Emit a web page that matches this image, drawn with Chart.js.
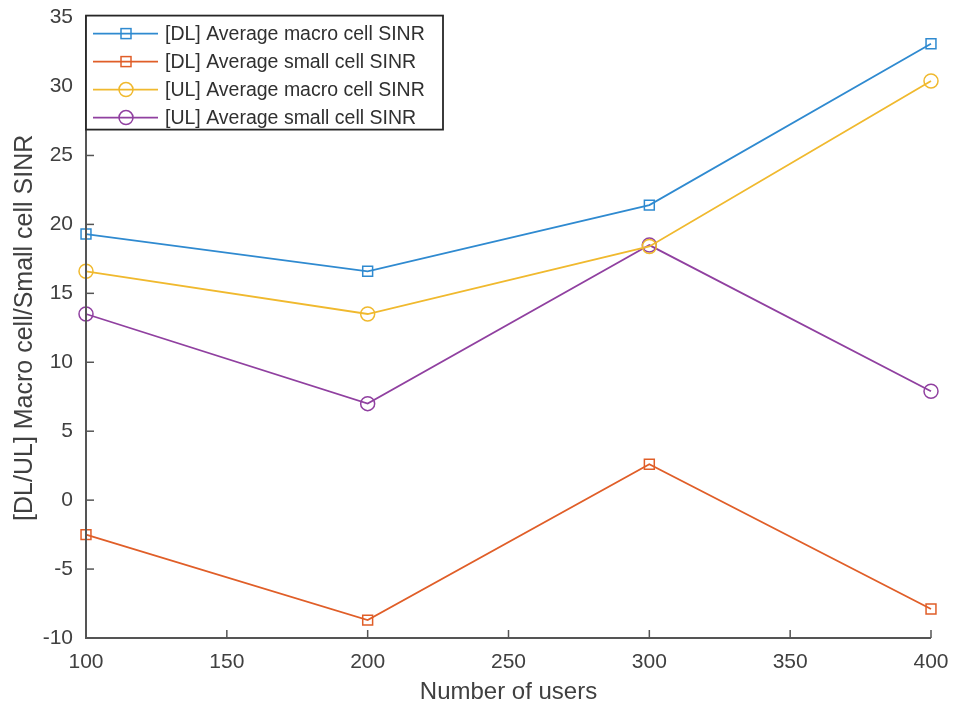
<!DOCTYPE html>
<html>
<head>
<meta charset="utf-8">
<script src="https://cdn.jsdelivr.net/npm/chart.js@4.4.1/dist/chart.umd.min.js"></script>
<style>
  html, body { margin: 0; padding: 0; background: #fff; }
  #wrap { width: 957px; height: 711px; }
</style>
</head>
<body>
<div id="wrap"><canvas id="sinrChart" width="957" height="711"></canvas></div>
<script>
// dados
const users = [100, 200, 300, 400];
const dlMacro = [19.3, 16.6, 21.4, 33.1];
const dlSmall = [-2.5, -8.7, 2.6, -7.9];
const ulMacro = [16.6, 13.5, 18.4, 30.4];
const ulSmall = [13.5, 7.0, 18.5, 7.9];
const xTicks = [100, 150, 200, 250, 300, 350, 400];
const yTicks = [-10, -5, 0, 5, 10, 15, 20, 25, 30, 35];

const axisColor = '#404040';
const fontFam = '"Liberation Sans", Arial, sans-serif';

function serie(label, values, color, shape) {
  return {
    label: label,
    data: users.map((u, i) => ({ x: u, y: values[i] })),
    borderColor: color,
    backgroundColor: color,
    borderWidth: 1.8,
    pointStyle: shape,
    pointRadius: 7,
    pointBorderWidth: 1.5,
    pointBackgroundColor: 'rgba(0,0,0,0)',
    pointBorderColor: color,
    clip: false,
    tension: 0
  };
}

// ticks para dentro e legenda no estilo MATLAB
const matlabAxes = {
  id: 'matlabAxes',
  afterDraw(chart) {
    const ctx = chart.ctx;
    const x = chart.scales.x, y = chart.scales.y;
    const a = chart.chartArea;
    ctx.save();
    ctx.strokeStyle = '#555';
    ctx.lineWidth = 2;
    ctx.beginPath();
    ctx.moveTo(a.left, a.top - 2);
    ctx.lineTo(a.left, a.bottom);
    ctx.lineTo(a.right, a.bottom);
    ctx.stroke();
    ctx.lineWidth = 1.5;
    xTicks.forEach(v => {
      const px = x.getPixelForValue(v);
      ctx.beginPath(); ctx.moveTo(px, a.bottom); ctx.lineTo(px, a.bottom - 8); ctx.stroke();
    });
    yTicks.forEach(v => {
      const py = y.getPixelForValue(v);
      ctx.beginPath(); ctx.moveTo(a.left, py); ctx.lineTo(a.left + 8, py); ctx.stroke();
    });

    // legenda
    const lx = a.left, ly = a.top - 2, lw = 357, lh = 114;
    ctx.fillStyle = '#fff';
    ctx.fillRect(lx, ly, lw, lh);
    ctx.strokeStyle = '#262626';
    ctx.lineWidth = 1.8;
    ctx.strokeRect(lx, ly, lw, lh);
    ctx.font = '19.5px ' + fontFam;
    ctx.textBaseline = 'middle';
    chart.data.datasets.forEach((ds, i) => {
      const ry = ly + 18 + i * 28;
      ctx.strokeStyle = ds.borderColor;
      ctx.lineWidth = 1.8;
      ctx.beginPath(); ctx.moveTo(lx + 7, ry); ctx.lineTo(lx + 72, ry); ctx.stroke();
      ctx.lineWidth = 1.5;
      if (ds.pointStyle === 'rect') {
        ctx.strokeRect(lx + 35, ry - 5, 10, 10);
      } else {
        ctx.beginPath(); ctx.arc(lx + 40, ry, 7, 0, Math.PI * 2); ctx.stroke();
      }
      ctx.fillStyle = '#303030';
      ctx.fillText(ds.label, lx + 79, ry + 1);
    });
    ctx.restore();
  }
};

const ctx = document.getElementById('sinrChart').getContext('2d');
new Chart(ctx, {
  type: 'line',
  data: {
    datasets: [
      serie('[DL] Average macro cell SINR', dlMacro, '#2F8AD0', 'rect'),
      serie('[DL] Average small cell SINR', dlSmall, '#E05E28', 'rect'),
      serie('[UL] Average macro cell SINR', ulMacro, '#F0B92E', 'circle'),
      serie('[UL] Average small cell SINR', ulSmall, '#9040A0', 'circle')
    ]
  },
  options: {
    responsive: false,
    animation: false,
    layout: { padding: { top: 12, right: 26, left: 6, bottom: 0 } },
    plugins: { legend: { display: false }, tooltip: { enabled: false } },
    scales: {
      x: {
        type: 'linear',
        min: 100, max: 400,
        afterBuildTicks: s => { s.ticks = xTicks.map(v => ({ value: v })); },
        afterFit: s => { s.height = 73; },
        grid: { display: false },
        border: { display: false },
        ticks: { color: axisColor, font: { family: fontFam, size: 21 }, padding: 4, maxRotation: 0 },
        title: { display: true, text: 'Number of users', color: axisColor, font: { family: fontFam, size: 24 }, padding: { top: 0 } }
      },
      y: {
        min: -10, max: 35,
        afterBuildTicks: s => { s.ticks = yTicks.map(v => ({ value: v })); },
        afterFit: s => { s.width = 80; },
        grid: { display: false },
        border: { display: false },
        ticks: { color: axisColor, font: { family: fontFam, size: 21 }, padding: 5 },
        title: { display: true, text: '[DL/UL] Macro cell/Small cell SINR', color: axisColor, font: { family: fontFam, size: 25 }, padding: { bottom: 0 } }
      }
    }
  },
  plugins: [matlabAxes]
});
</script>
</body>
</html>
